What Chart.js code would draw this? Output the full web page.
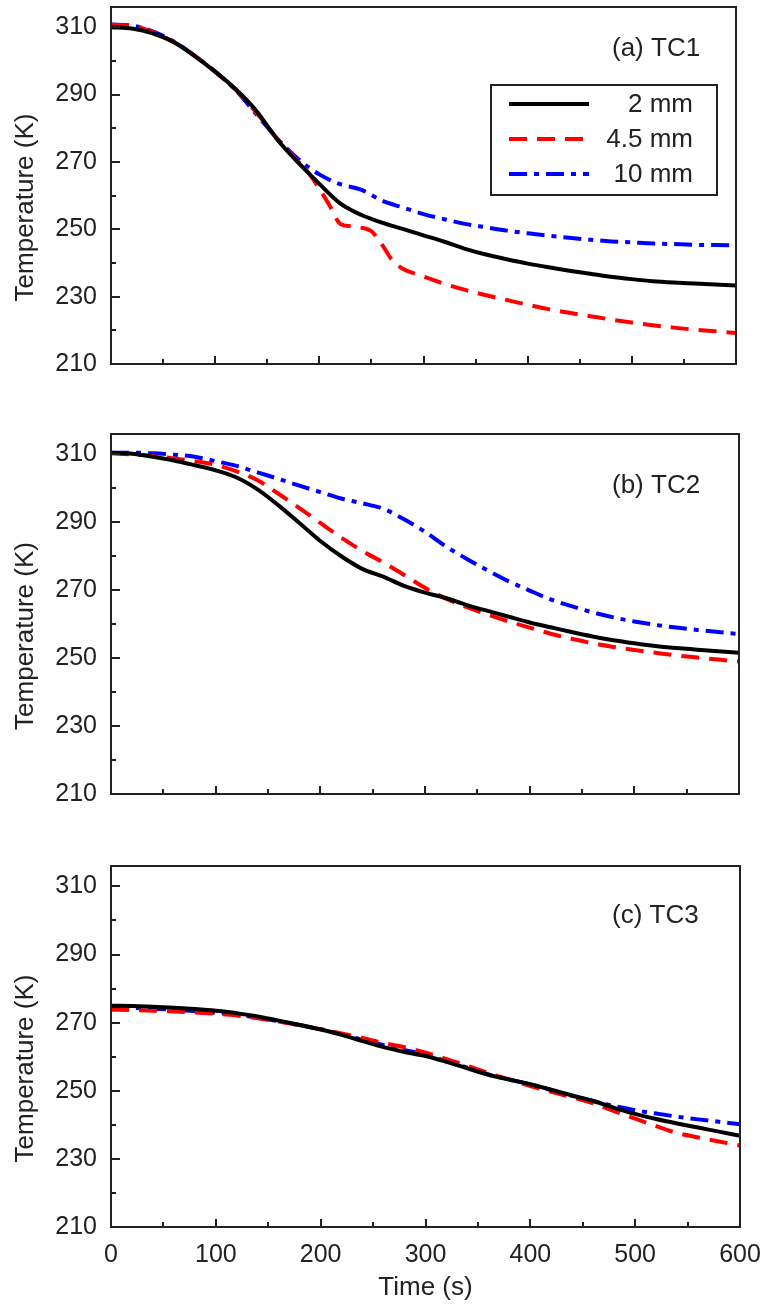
<!DOCTYPE html>
<html>
<head>
<meta charset="utf-8">
<script src="https://cdn.jsdelivr.net/npm/chart.js@4.4.1/dist/chart.umd.min.js"></script>
<style>
  body { margin: 0; background: #fff; }
  #wrap { position: relative; width: 764px; height: 1308px; }
  canvas { position: absolute; left: 0; }
</style>
</head>
<body>
<div id="wrap">
  <canvas id="tc1" width="764" height="400" style="top:0px"></canvas>
  <canvas id="tc2" width="764" height="420" style="top:400px"></canvas>
  <canvas id="tc3" width="764" height="488" style="top:820px"></canvas>
</div>
<script>
// time axis (s), shared by most series
const time = [0, 20, 40, 60, 80, 100, 120, 140, 160, 180, 200, 220, 240, 260, 280, 300,
  320, 340, 360, 380, 400, 420, 440, 460, 480, 500, 520, 540, 560, 580, 600];
// the 4.5 mm curve in TC1 has a step, so it gets a finer time grid
const timeTc1Red = [0, 20, 40, 60, 80, 100, 120, 140, 160, 180, 190, 200, 210, 220, 230, 240,
  250, 260, 270, 280, 300, 320, 340, 360, 380, 400, 420, 440, 460, 480, 500, 520, 540, 560, 580, 600];

const seriesNames = ["2 mm", "4.5 mm", "10 mm"];
const xTicks = [0, 100, 200, 300, 400, 500, 600];
const yTicks = [210, 230, 250, 270, 290, 310];

// (a) TC1
const tc1_2mm = [310.0, 309.6, 308.2, 305.6, 301.5, 296.8, 291.5, 285.0, 276.5, 269.7, 263.5,
  257.7, 254.3, 252.0, 250.1, 248.2, 246.3, 244.2, 242.5, 241.1, 239.8, 238.7, 237.7, 236.8,
  235.9, 235.2, 234.6, 234.2, 233.9, 233.6, 233.3];
const tc1_45mm = [310.7, 310.4, 308.6, 305.7, 301.6, 296.8, 291.3, 284.5, 276.8, 270.0, 266.6,
  262.0, 257.0, 251.6, 250.9, 250.5, 249.4, 245.5, 240.8, 238.3, 236.0, 233.8, 232.0, 230.4,
  229.0, 227.6, 226.3, 225.2, 224.2, 223.2, 222.3, 221.5, 220.8, 220.2, 219.7, 219.2];
const tc1_10mm = [310.8, 310.5, 308.8, 305.8, 301.6, 296.8, 291.2, 284.0, 276.8, 270.8, 266.3,
  263.4, 261.8, 258.5, 256.5, 254.5, 253.0, 251.6, 250.6, 249.6, 248.8, 248.1, 247.5, 246.9,
  246.4, 246.1, 245.8, 245.6, 245.4, 245.3, 245.2];

// (b) TC2
const tc2_2mm = [310.5, 310.2, 309.3, 308.2, 306.8, 305.3, 303.2, 299.7, 295.0, 289.8, 284.5,
  280.0, 276.3, 274.0, 271.3, 269.3, 267.7, 265.6, 263.9, 262.2, 260.5, 259.1, 257.7, 256.4,
  255.3, 254.4, 253.6, 253.0, 252.5, 252.0, 251.6];
const tc2_45mm = [310.3, 310.0, 309.5, 308.8, 308.0, 306.9, 305.0, 302.4, 298.4, 294.2, 289.8,
  285.5, 281.6, 278.2, 274.5, 270.7, 267.5, 265.0, 262.8, 260.8, 259.0, 257.2, 255.7, 254.4,
  253.3, 252.4, 251.6, 250.8, 250.2, 249.6, 249.0];
const tc2_10mm = [310.5, 310.5, 310.3, 309.9, 309.3, 308.0, 306.6, 304.7, 302.8, 300.8, 298.9,
  297.0, 295.6, 294.0, 290.9, 287.2, 282.9, 279.2, 275.8, 272.6, 269.9, 267.3, 265.3, 263.5,
  262.0, 260.8, 259.8, 259.0, 258.3, 257.7, 257.1];

// (c) TC3
const tc3_2mm = [275.0, 274.9, 274.7, 274.4, 274.0, 273.5, 272.8, 271.8, 270.6, 269.3, 268.0,
  266.4, 264.6, 262.8, 261.4, 260.2, 258.5, 256.6, 254.7, 253.3, 251.9, 250.3, 248.6, 247.0,
  245.0, 243.2, 241.7, 240.4, 239.2, 238.0, 236.8];
const tc3_45mm = [273.8, 273.7, 273.5, 273.3, 273.0, 272.6, 272.1, 271.3, 270.3, 269.2, 268.1,
  266.8, 265.5, 264.0, 262.8, 261.2, 259.3, 257.3, 255.2, 253.3, 251.4, 249.7, 248.1, 246.3,
  244.0, 241.8, 239.6, 237.6, 236.3, 235.1, 233.9];
const tc3_10mm = [274.4, 274.3, 274.1, 273.8, 273.4, 272.9, 272.3, 271.5, 270.4, 269.3, 268.1,
  266.6, 265.0, 263.4, 262.0, 260.6, 258.7, 256.8, 254.8, 253.3, 251.9, 250.2, 248.5, 247.0,
  245.5, 244.3, 243.3, 242.4, 241.6, 240.9, 240.2];

const FONT = "'Liberation Sans', Arial, Helvetica, sans-serif";
const INK = "#222";
const styles = [
  { borderColor: "#000000", borderDash: [] },
  { borderColor: "#ff0000", borderDash: [18, 10] },
  { borderColor: "#0000ff", borderDash: [18, 7, 5, 7] },
];

function pts(ts, vals) {
  return ts.map((t, i) => ({ x: t, y: vals[i] }));
}

// frame, inward ticks, y title, panel tag and (optionally) the legend box
const panelDecor = {
  id: "panelDecor",
  afterDatasetsDraw(chart, args, opts) {
    const { ctx, chartArea: a } = chart;
    const x = chart.scales.x, y = chart.scales.y;
    ctx.save();
    ctx.strokeStyle = INK;
    ctx.lineWidth = 2;
    ctx.strokeRect(a.left, a.top, a.right - a.left, a.bottom - a.top);

    ctx.beginPath();
    for (let v = 50; v < 600; v += 50) {
      const px = Math.round(x.getPixelForValue(v));
      const len = v % 100 === 0 ? 8 : 5;
      ctx.moveTo(px, a.bottom);
      ctx.lineTo(px, a.bottom - len);
    }
    for (let v = 220; v <= 310; v += 10) {
      const py = Math.round(y.getPixelForValue(v));
      const len = (v - 210) % 20 === 0 ? 9 : 5;
      ctx.moveTo(a.left, py);
      ctx.lineTo(a.left + len, py);
    }
    ctx.stroke();

    ctx.fillStyle = INK;
    ctx.font = "26px " + FONT;
    ctx.textBaseline = "middle";

    // y axis title, sits a bit below the middle of the frame
    ctx.save();
    ctx.translate(26, (a.top + a.bottom) / 2 + 22);
    ctx.rotate(-Math.PI / 2);
    ctx.textAlign = "center";
    ctx.fillText("Temperature (K)", 0, 0);
    ctx.restore();

    ctx.textAlign = "left";
    ctx.fillText(opts.tag, 612, a.top + opts.tagDy);

    if (opts.legend) {
      const bx = 491, by = 85, bw = 226, bh = 110;
      ctx.strokeRect(bx, by, bw, bh);
      const rows = [104, 139, 174];
      chart.data.datasets.forEach((ds, i) => {
        ctx.save();
        ctx.strokeStyle = ds.borderColor;
        ctx.lineWidth = 4;
        ctx.setLineDash(ds.borderDash);
        ctx.beginPath();
        ctx.moveTo(509, rows[i]);
        ctx.lineTo(589, rows[i]);
        ctx.stroke();
        ctx.restore();
        ctx.textAlign = "right";
        ctx.fillText(ds.label, 693, rows[i] + 1);
      });
    }
    ctx.restore();
  },
};

function makePanel(id, series, cfg) {
  const datasets = series.map((s, i) => ({
    label: seriesNames[i],
    data: pts(s.t, s.v),
    borderColor: styles[i].borderColor,
    borderDash: styles[i].borderDash,
    borderWidth: 4,
    borderCapStyle: "butt",
    pointRadius: 0,
    fill: false,
    cubicInterpolationMode: "monotone",
  }));

  new Chart(document.getElementById(id), {
    type: "line",
    data: { datasets },
    options: {
      responsive: false,
      animation: false,
      devicePixelRatio: 1,
      layout: { padding: cfg.padding },
      plugins: {
        legend: { display: false },
        tooltip: { enabled: false },
        panelDecor: { tag: cfg.tag, tagDy: cfg.tagDy, legend: !!cfg.legend },
      },
      scales: {
        x: {
          type: "linear",
          min: 0,
          max: 600,
          display: cfg.showX,
          afterBuildTicks: (s) => { s.ticks = xTicks.map((v) => ({ value: v })); },
          afterFit: (s) => {
            s.height = cfg.showX ? 81 : 0;
            s.paddingLeft = 0;
            s.paddingRight = 0;
          },
          grid: { display: false, drawTicks: false },
          border: { display: false },
          ticks: { color: INK, padding: 13, font: { family: FONT, size: 25 } },
          title: {
            display: true,
            text: "Time (s)",
            color: INK,
            font: { family: FONT, size: 26 },
            padding: { top: 0, bottom: 5 },
          },
        },
        y: {
          min: 210,
          max: 316,
          afterBuildTicks: (s) => { s.ticks = yTicks.map((v) => ({ value: v })); },
          afterFit: (s) => {
            s.width = 111;
            s.paddingTop = 0;
            s.paddingBottom = 0;
          },
          grid: { display: false, drawTicks: false },
          border: { display: false },
          ticks: { color: INK, padding: 14, font: { family: FONT, size: 25 } },
        },
      },
    },
    plugins: [panelDecor],
  });
}

makePanel("tc1", [
  { t: time, v: tc1_2mm },
  { t: timeTc1Red, v: tc1_45mm },
  { t: time, v: tc1_10mm },
], { padding: { top: 7, right: 28, bottom: 36, left: 0 }, showX: false, tag: "(a) TC1", tagDy: 42, legend: true });

makePanel("tc2", [
  { t: time, v: tc2_2mm },
  { t: time, v: tc2_45mm },
  { t: time, v: tc2_10mm },
], { padding: { top: 34, right: 25, bottom: 26, left: 0 }, showX: false, tag: "(b) TC2", tagDy: 52 });

makePanel("tc3", [
  { t: time, v: tc3_2mm },
  { t: time, v: tc3_45mm },
  { t: time, v: tc3_10mm },
], { padding: { top: 46, right: 24, bottom: 0, left: 0 }, showX: true, tag: "(c) TC3", tagDy: 50 });
</script>
</body>
</html>
